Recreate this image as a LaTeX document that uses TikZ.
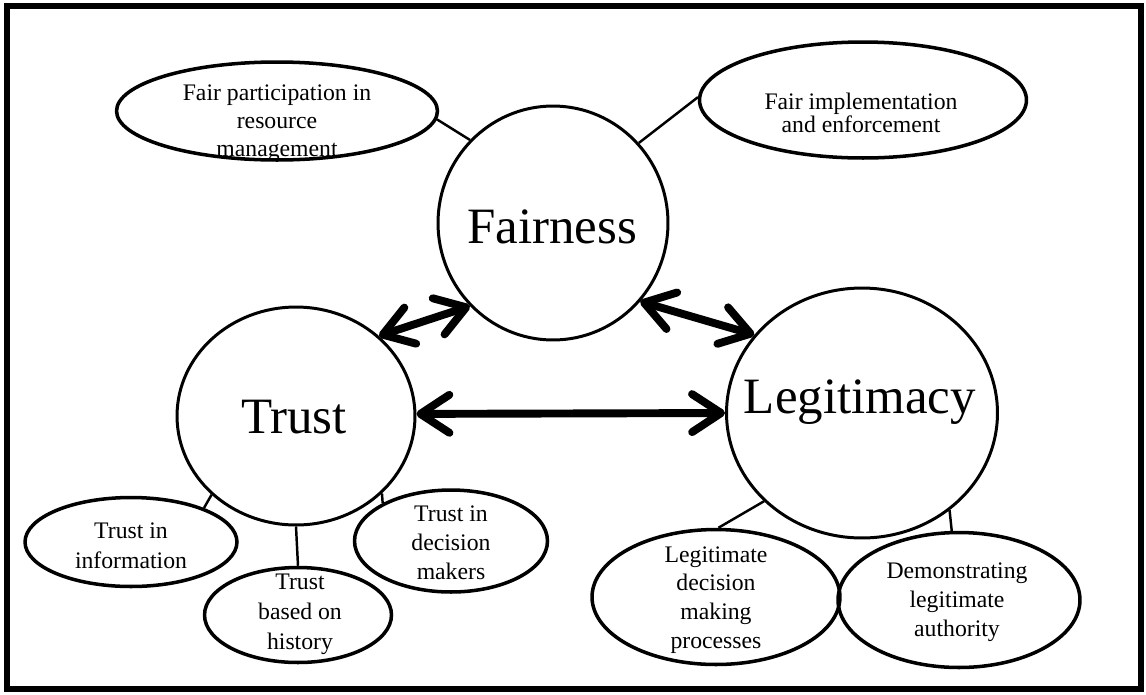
\documentclass[tikz,border=0pt]{standalone}
\usepackage{fontspec}
\setmainfont{Liberation Serif}
\usetikzlibrary{shapes.geometric, arrows.meta}

\begin{document}
\begin{tikzpicture}[x=0.02cm, y=-0.02cm,
    hub/.style={draw, ellipse, line width=1.7pt, inner sep=0pt},
    bubble/.style={draw, ellipse, line width=2pt, inner sep=0pt},
    bigword/.style={anchor=base, inner sep=0pt, font=\fontsize{29}{34}\selectfont},
    smallword/.style={align=center, inner sep=0pt, font=\fontsize{13.5}{16.4}\selectfont},
    link/.style={line width=1.4pt},
    twoway/.style={line width=4.5pt,
      {Straight Barb[length=0.58cm, width=0.76cm, round]}-{Straight Barb[length=0.58cm, width=0.76cm, round]}}]
  \useasboundingbox (0,0) rectangle (1146,694);
  \draw[line width=3.2pt] (7,6) rectangle (1141,689);

  % three main circles
  \node[hub, minimum width=4.6cm, minimum height=4.68cm] (fair) at (553,223) {};
  \node[hub, minimum width=4.76cm, minimum height=4.36cm] (trust) at (296,416) {};
  \node[hub, minimum width=5.42cm, minimum height=5cm] (legit) at (862,413) {};
  \node[bigword] (fairtxt) at (552,243) {Fairness};
  \node[bigword] (trusttxt) at (294,433) {Trust};
  \node[bigword] (legittxt) at (860,413) {Legitimacy};

  % fairness
  \node[bubble, minimum width=6.42cm, minimum height=1.96cm] (part) at (277,111) {};
  \node[smallword, font=\fontsize{13.5}{16}\selectfont] (parttxt) at (277,123) {Fair participation in\\resource\\management};
  \node[bubble, minimum width=6.54cm, minimum height=2.32cm] (impl) at (863,100) {};
  \node[smallword, font=\fontsize{13.5}{12.8}\selectfont] (impltxt) at (861,113) {Fair implementation\\and enforcement};

  % trust
  \node[bubble, minimum width=4.24cm, minimum height=1.78cm] (info) at (131,542) {};
  \node[smallword, font=\fontsize{13.5}{17}\selectfont] (infotxt) at (131,546) {Trust in\\information};
  \node[bubble, minimum width=3.74cm, minimum height=1.9cm] (hist) at (298,615) {};
  \node[smallword, font=\fontsize{13.5}{17}\selectfont] (histtxt) at (300,614) {Trust\\based on\\history};
  \node[bubble, minimum width=3.86cm, minimum height=2.04cm] (dec) at (451,541) {};
  \node[smallword] (dectxt) at (451,543) {Trust in\\decision\\makers};

  % legitimacy
  \node[bubble, minimum width=4.96cm, minimum height=2.7cm] (proc) at (716,597) {};
  \node[smallword] (proctxt) at (716,600) {Legitimate\\decision\\making\\processes};
  \node[bubble, minimum width=4.84cm, minimum height=2.7cm] (demo) at (959,600) {};
  \node[smallword] (demotxt) at (957,602) {Demonstrating\\legitimate\\authority};

  \draw[link] (part.357) -- (fair.135);
  \draw[link] (impl.179) -- (fair.43);
  \draw[link] (info.25) -- (trust.223);
  \draw[link] (hist.north) -- (trust.south);
  \draw[link] (dec.151) -- (trust.318);
  \draw[link] (proc.88) -- (legit.222);
  \draw[link] (demo.96) -- (legit.312);

  \draw[twoway] (trust.44) -- (fair.225);
  \draw[twoway] (fair.318) -- (legit.144);
  \draw[twoway] (trust.1) -- (legit.west);
\end{tikzpicture}
\end{document}
